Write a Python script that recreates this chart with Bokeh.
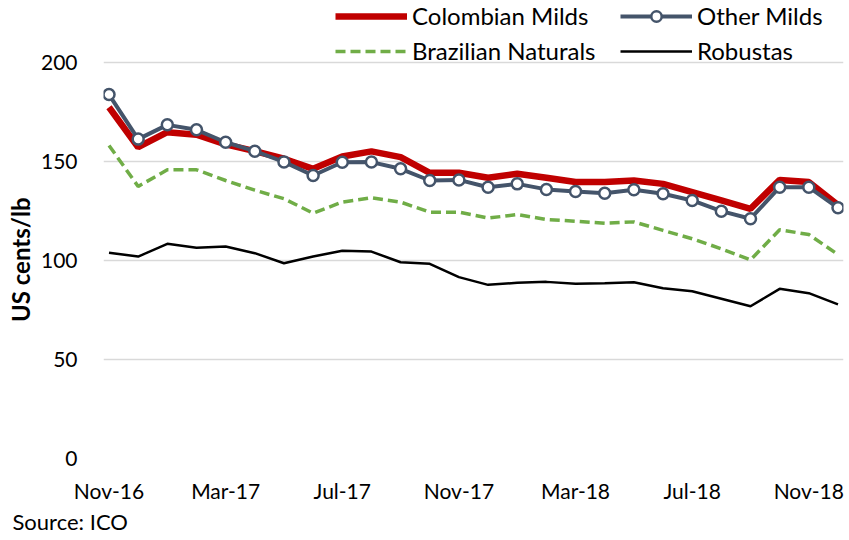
from bokeh.plotting import figure
from bokeh.models import (ColumnDataSource, FixedTicker, Range1d, Legend, LegendItem, Title)
from bokeh.embed import file_html
from bokeh.resources import INLINE

months = ["Nov-16", "Dec-16", "Jan-17", "Feb-17", "Mar-17", "Apr-17", "May-17", "Jun-17",
          "Jul-17", "Aug-17", "Sep-17", "Oct-17", "Nov-17", "Dec-17", "Jan-18", "Feb-18",
          "Mar-18", "Apr-18", "May-18", "Jun-18", "Jul-18", "Aug-18", "Sep-18", "Oct-18",
          "Nov-18", "Dec-18"]

colombian_milds = [177.4, 157.2, 164.8, 163.5, 158.6, 155.2, 151.4, 146.3, 152.5, 155.1,
                   152.2, 144.3, 144.3, 141.8, 143.8, 141.8, 139.6, 139.6, 140.4, 138.7,
                   134.5, 130.3, 126.1, 140.7, 139.6, 128.0]
other_milds = [183.8, 161.3, 168.5, 166.0, 159.7, 155.2, 149.8, 142.9, 149.6, 149.7,
               146.3, 140.4, 140.7, 137.0, 138.7, 135.9, 134.8, 134.0, 135.7, 133.7,
               130.3, 124.9, 121.1, 137.0, 137.0, 126.6]
brazilian_naturals = [158.1, 137.4, 145.8, 145.8, 140.4, 135.5, 131.2, 123.9, 129.5, 131.7,
                      129.5, 124.4, 124.4, 121.4, 123.2, 120.7, 119.8, 118.8, 119.5, 115.2,
                      111.0, 105.9, 100.3, 115.5, 113.1, 103.0]
robustas = [103.9, 102.0, 108.4, 106.4, 107.1, 103.7, 98.6, 102.0, 104.9, 104.5,
            99.1, 98.3, 91.6, 87.7, 88.7, 89.2, 88.2, 88.5, 89.0, 86.0,
            84.5, 80.7, 76.9, 85.7, 83.5, 77.8]

y_ticks = [0, 50, 100, 150, 200]
x_tick_every = 4

idx = list(range(len(months)))
src = ColumnDataSource(dict(x=idx, col=colombian_milds, oth=other_milds,
                            bra=brazilian_naturals, rob=robustas))

FONT = "Lato"

# frame spans the full height above the x axis; headroom above 200 holds the legend
p = figure(width=849, height=540, output_backend="svg", toolbar_location=None,
           x_range=Range1d(-0.189, len(months) - 1 + 0.189), y_range=Range1d(0, 231.3),
           min_border_left=103, min_border_right=6, min_border_top=0, min_border_bottom=82)
p.outline_line_color = None
p.xgrid.grid_line_color = None
p.ygrid.grid_line_color = "#d9d9d9"
p.ygrid.grid_line_width = 1.5

p.yaxis.ticker = FixedTicker(ticks=y_ticks)
x_ticks = idx[::x_tick_every]
p.xaxis.ticker = FixedTicker(ticks=x_ticks)
p.xaxis.major_label_overrides = {i: months[i] for i in x_ticks}

for ax in (p.xaxis[0], p.yaxis[0]):
    ax.axis_line_color = None
    ax.major_tick_line_color = None
    ax.minor_tick_line_color = None
    ax.major_label_text_font = FONT
    ax.major_label_text_font_size = "21px"
    ax.major_label_text_color = "black"
p.xaxis.major_label_standoff = 13
p.yaxis.major_label_standoff = 20

y_title = Title(text="US cents/lb", align="right", vertical_align="top", text_font=FONT,
                text_font_size="24px", text_font_style="bold", text_color="black",
                offset=197, standoff=2)
p.add_layout(y_title, "left")

r_rob = p.line("x", "rob", source=src, line_color="black", line_width=2.5)
r_bra = p.line("x", "bra", source=src, line_color="#70AD47", line_width=3.5, line_dash="10 5")
r_col = p.line("x", "col", source=src, line_color="#C00000", line_width=6.5)
r_oth = p.line("x", "oth", source=src, line_color="#44546A", line_width=4)
r_oth_m = p.scatter("x", "oth", source=src, marker="circle", size=11, fill_color="white",
                    line_color="#44546A", line_width=2.5)

def make_legend(items, vx):
    return Legend(items=items, location=(vx, 393), orientation="vertical",
                  glyph_width=72, glyph_height=26, label_height=26, spacing=6,
                  label_standoff=5, padding=0, margin=0,
                  border_line_alpha=0, background_fill_alpha=0,
                  label_text_font=FONT, label_text_font_size="24px", label_text_color="black")

leg1 = make_legend([LegendItem(label="Colombian Milds", renderers=[r_col]),
                    LegendItem(label="Brazilian Naturals", renderers=[r_bra])], 232)
leg2 = make_legend([LegendItem(label="Other Milds", renderers=[r_oth, r_oth_m]),
                    LegendItem(label="Robustas", renderers=[r_rob])], 517)
p.add_layout(leg1, "center")
p.add_layout(leg2, "center")

src_title = Title(text="Source: ICO", align="left", text_font=FONT, text_font_size="22px",
                  text_font_style="normal", text_color="black", offset=-91, standoff=0)
p.add_layout(src_title, "below")

open("out.html", "w").write(file_html(p, INLINE))
